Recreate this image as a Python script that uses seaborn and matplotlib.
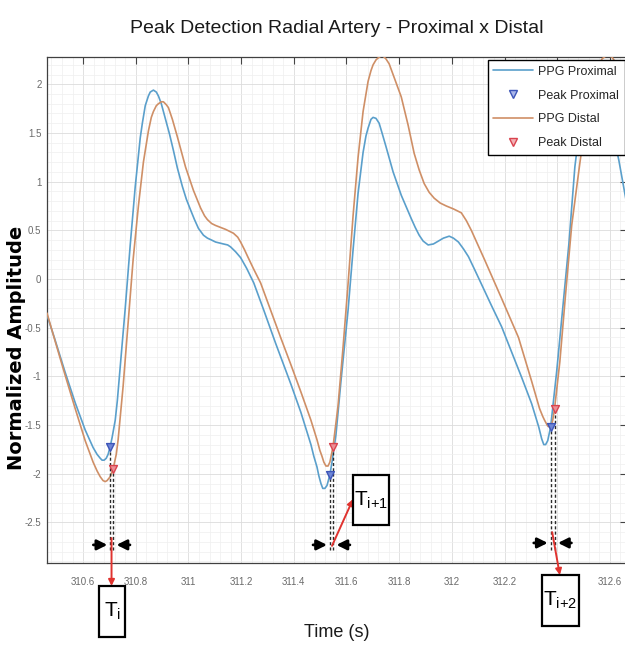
import matplotlib
matplotlib.use("Agg")
import matplotlib.pyplot as plt
import seaborn as sns
import pandas as pd
from matplotlib.patches import Rectangle
from matplotlib.lines import Line2D
from matplotlib.ticker import MultipleLocator, FixedLocator, FixedFormatter

# ---------------- data ----------------
prox_t = [310.463, 310.493, 310.531, 310.570, 310.608, 310.638, 310.653, 310.665, 310.672, 310.680,
          310.688, 310.695, 310.703, 310.710, 310.722, 310.730, 310.741, 310.760, 310.779, 310.798,
          310.817, 310.825, 310.836, 310.848, 310.855, 310.867, 310.878, 310.886, 310.897, 310.912,
          310.928, 310.943, 310.958, 310.977, 310.992, 311.008, 311.023, 311.038, 311.057, 311.072,
          311.088, 311.103, 311.133, 311.149, 311.160, 311.179, 311.198, 311.221, 311.248, 311.286,
          311.331, 311.389, 311.427, 311.465, 311.476, 311.488, 311.495, 311.503, 311.510, 311.518,
          311.526, 311.533, 311.537, 311.545, 311.560, 311.579, 311.606, 311.625, 311.644, 311.663,
          311.674, 311.682, 311.693, 311.701, 311.712, 311.724, 311.735, 311.750, 311.777, 311.808,
          311.846, 311.861, 311.876, 311.891, 311.910, 311.930, 311.949, 311.968, 311.990, 312.006,
          312.025, 312.044, 312.063, 312.086, 312.112, 312.150, 312.189, 312.227, 312.265, 312.303,
          312.330, 312.341, 312.349, 312.356, 312.364, 312.375, 312.398, 312.421, 312.444, 312.467,
          312.493, 312.512, 312.531, 312.550, 312.570, 312.585, 312.600, 312.634, 312.650, 312.672]
prox_v = [-0.37, -0.62, -0.95, -1.27, -1.55, -1.73, -1.80, -1.84, -1.86, -1.86,
          -1.84, -1.80, -1.72, -1.63, -1.45, -1.25, -0.90, -0.30, 0.35, 0.95,
          1.45, 1.60, 1.78, 1.88, 1.92, 1.94, 1.92, 1.88, 1.80, 1.65,
          1.49, 1.32, 1.14, 0.95, 0.82, 0.71, 0.61, 0.52, 0.45, 0.42,
          0.40, 0.38, 0.36, 0.35, 0.33, 0.28, 0.22, 0.11, -0.04, -0.32,
          -0.66, -1.08, -1.37, -1.70, -1.82, -1.93, -2.02, -2.10, -2.15, -2.15,
          -2.12, -2.05, -2.01, -1.88, -1.60, -1.05, -0.32, 0.30, 0.88, 1.30,
          1.47, 1.55, 1.64, 1.66, 1.65, 1.60, 1.50, 1.36, 1.10, 0.86,
          0.62, 0.53, 0.45, 0.39, 0.35, 0.36, 0.39, 0.42, 0.44, 0.42,
          0.38, 0.31, 0.23, 0.10, -0.05, -0.27, -0.49, -0.75, -1.01, -1.28,
          -1.52, -1.64, -1.70, -1.70, -1.66, -1.52, -0.95, -0.30, 0.35, 1.15,
          1.72, 1.92, 2.00, 1.98, 1.90, 1.80, 1.65, 1.22, 0.98, 0.65]

dist_t = [310.463, 310.493, 310.531, 310.570, 310.608, 310.638, 310.653, 310.665, 310.676, 310.684,
          310.691, 310.703, 310.714, 310.726, 310.733, 310.752, 310.771, 310.790, 310.810, 310.829,
          310.848, 310.859, 310.867, 310.878, 310.886, 310.897, 310.905, 310.916, 310.924, 310.939,
          310.958, 310.989, 311.019, 311.046, 311.061, 311.072, 311.088, 311.103, 311.122, 311.141,
          311.156, 311.171, 311.187, 311.198, 311.213, 311.225, 311.248, 311.274, 311.312, 311.350,
          311.389, 311.427, 311.465, 311.488, 311.499, 311.507, 311.514, 311.522, 311.530, 311.537,
          311.549, 311.568, 311.587, 311.606, 311.625, 311.644, 311.663, 311.682, 311.693, 311.701,
          311.712, 311.720, 311.731, 311.739, 311.750, 311.762, 311.785, 311.808, 311.834, 311.857,
          311.876, 311.895, 311.914, 311.933, 311.956, 311.979, 312.006, 312.036, 312.055, 312.074,
          312.124, 312.189, 312.253, 312.303, 312.333, 312.345, 312.352, 312.364, 312.371, 312.379,
          312.383, 312.390, 312.410, 312.432, 312.455, 312.486, 312.512, 312.550, 312.570, 312.589,
          312.608, 312.627, 312.646, 312.672]
dist_v = [-0.35, -0.63, -0.98, -1.33, -1.66, -1.88, -1.97, -2.03, -2.07, -2.08,
          -2.07, -2.03, -1.95, -1.80, -1.65, -1.10, -0.45, 0.20, 0.75, 1.20,
          1.52, 1.66, 1.72, 1.78, 1.80, 1.82, 1.82, 1.79, 1.76, 1.64,
          1.46, 1.15, 0.91, 0.73, 0.65, 0.61, 0.57, 0.55, 0.53, 0.51,
          0.49, 0.47, 0.43, 0.38, 0.30, 0.23, 0.10, -0.04, -0.32, -0.60,
          -0.88, -1.16, -1.45, -1.65, -1.76, -1.82, -1.88, -1.92, -1.92, -1.88,
          -1.72, -1.30, -0.70, -0.05, 0.65, 1.25, 1.72, 2.03, 2.14, 2.20,
          2.25, 2.27, 2.29, 2.29, 2.26, 2.21, 2.04, 1.87, 1.58, 1.29,
          1.12, 0.98, 0.89, 0.83, 0.78, 0.75, 0.72, 0.68, 0.60, 0.50,
          0.20, -0.20, -0.60, -1.05, -1.33, -1.41, -1.45, -1.51, -1.52, -1.49,
          -1.45, -1.33, -0.85, -0.15, 0.55, 1.19, 1.70, 2.15, 2.26, 2.30,
          2.28, 2.20, 2.06, 1.85]

prox_peak_t = [310.703, 311.537, 312.375]
prox_peak_v = [-1.72, -2.01, -1.52]
dist_peak_t = [310.714, 311.549, 312.390]
dist_peak_v = [-1.95, -1.72, -1.33]

x_ticks = [310.6, 310.8, 311.0, 311.2, 311.4, 311.6, 311.8, 312.0, 312.2, 312.4, 312.6]
x_tick_labels = ["310.6", "310.8", "311", "311.2", "311.4", "311.6", "311.8", "312", "312.2", "312.4", "312.6"]
y_ticks = [-2.5, -2, -1.5, -1, -0.5, 0, 0.5, 1, 1.5, 2]
y_tick_labels = ["-2.5", "-2", "-1.5", "-1", "-0.5", "0", "0.5", "1", "1.5", "2"]

series_labels = ["PPG Proximal", "Peak Proximal", "PPG Distal", "Peak Distal"]
interval_labels = [r"$\mathregular{T_{i}}$", r"$\mathregular{T_{i{+}1}}$", r"$\mathregular{T_{i{+}2}}$"]
title_text = "Peak Detection Radial Artery - Proximal x Distal"
x_label = "Time (s)"
y_label = "Normalized Amplitude"

# ---------------- layout / style ----------------
C_BLUE = "#5a9fcb"
C_ORANGE = "#cf8f66"
C_MK_BLUE = "#3d55b8"
C_MK_RED = "#d9434e"
C_RED = "#e0332f"
FONT = ["Liberation Sans Narrow", "Liberation Sans", "DejaVu Sans"]

# annotation geometry (data units)
dash_bottom = -2.78
arrow_y = [-2.73, -2.73, -2.71]
boxes = [(310.661, 310.760, -3.676, -3.152),
         (311.625, 311.762, -2.526, -2.012),
         (312.341, 312.482, -3.563, -3.039)]
red_arrows = [((310.708, -2.66), (310.708, -3.152)),
              ((311.545, -2.74), (311.625, -2.26)),
              ((312.381, -2.60), (312.41, -3.04))]

sns.set_style("white")
plt.rcParams["font.family"] = FONT
plt.rcParams["axes.unicode_minus"] = False

fig = plt.figure(figsize=(6.25, 6.49), dpi=100)
ax = fig.add_axes([47 / 625, 86 / 649, 580 / 625, 506 / 649])

df_p = pd.DataFrame({"t": prox_t, "v": prox_v})
df_d = pd.DataFrame({"t": dist_t, "v": dist_v})
sns.lineplot(data=df_p, x="t", y="v", ax=ax, color=C_BLUE, lw=1.2, sort=False, estimator=None, zorder=3)
sns.lineplot(data=df_d, x="t", y="v", ax=ax, color=C_ORANGE, lw=1.2, sort=False, estimator=None, zorder=3)

# dashed guide lines from peaks to the bottom
ax.vlines(prox_peak_t, dash_bottom, prox_peak_v, colors="#2a2a2a", linestyles=(0, (2.2, 1.6)), lw=1.0, zorder=4)
ax.vlines(dist_peak_t, dash_bottom, dist_peak_v, colors="#2a2a2a", linestyles=(0, (2.2, 1.6)), lw=1.0, zorder=4)

sns.scatterplot(x=prox_peak_t, y=prox_peak_v, ax=ax, marker="v", s=32, color="#6f86d6",
                edgecolor=C_MK_BLUE, linewidth=1.0, zorder=5)
sns.scatterplot(x=dist_peak_t, y=dist_peak_v, ax=ax, marker="v", s=32, color="#ec8f95",
                edgecolor=C_MK_RED, linewidth=1.0, zorder=5)

# black inward arrows
for pt, dt, ay in zip(prox_peak_t, dist_peak_t, arrow_y):
    ax.annotate("", xy=(pt - 0.011, ay), xytext=(pt - 0.064, ay),
                arrowprops=dict(arrowstyle="-|>", color="black", lw=2.0, mutation_scale=15,
                                shrinkA=0, shrinkB=0),
                zorder=6, annotation_clip=False)
    ax.annotate("", xy=(dt + 0.013, ay), xytext=(dt + 0.064, ay),
                arrowprops=dict(arrowstyle="-|>", color="black", lw=2.0, mutation_scale=15,
                                shrinkA=0, shrinkB=0),
                zorder=6, annotation_clip=False)

# red arrows to the interval boxes
for (st, en) in red_arrows:
    ax.annotate("", xy=en, xytext=st,
                arrowprops=dict(arrowstyle="-|>", color=C_RED, lw=1.4, mutation_scale=9,
                                shrinkA=0, shrinkB=0),
                zorder=7, annotation_clip=False)

# interval boxes
for (x0, x1, y0, y1), lab in zip(boxes, interval_labels):
    ax.add_patch(Rectangle((x0, y0), x1 - x0, y1 - y0, facecolor="white", edgecolor="black",
                           lw=1.6, clip_on=False, zorder=8))
    ax.text((x0 + x1) / 2, (y0 + y1) / 2, lab, ha="center", va="center", fontsize=15,
            color="black", zorder=9, clip_on=False)

# axes styling (MATLAB-like)
ax.set_xlim(310.463, 312.665)
ax.set_ylim(-2.916, 2.28)
ax.xaxis.set_major_locator(FixedLocator(x_ticks))
ax.xaxis.set_major_formatter(FixedFormatter(x_tick_labels))
ax.yaxis.set_major_locator(FixedLocator(y_ticks))
ax.yaxis.set_major_formatter(FixedFormatter(y_tick_labels))
ax.xaxis.set_minor_locator(MultipleLocator(0.04))
ax.yaxis.set_minor_locator(MultipleLocator(0.1))
ax.grid(which="major", color="#dcdcdc", lw=0.6)
ax.grid(which="minor", color="#efefef", lw=0.5)
ax.set_axisbelow(True)
ax.tick_params(which="major", direction="in", length=5, width=0.8, color="#444444",
               top=True, right=True, labelsize=7, labelcolor="#6a6a6a")
ax.tick_params(axis="x", pad=10)
ax.tick_params(axis="y", pad=4)
ax.tick_params(which="minor", length=0)
for s in ax.spines.values():
    s.set_color("#404040")
    s.set_linewidth(0.9)

ax.set_xlabel(x_label, fontsize=13, color="#1a1a1a")
ax.xaxis.set_label_coords(0.5, -0.12)
ax.set_ylabel(y_label, fontsize=14, fontweight="bold", family=["DejaVu Sans"], color="black")
ax.yaxis.set_label_coords(-0.036, 0.425)
ax.text(0.5, 1.057, title_text, transform=ax.transAxes, ha="center", va="center",
        fontsize=14, color="#1a1a1a")

handles = [Line2D([], [], color=C_BLUE, lw=1.2),
           Line2D([], [], ls="none", marker="v", markersize=6, markerfacecolor="#aab6ea",
                  markeredgecolor=C_MK_BLUE, markeredgewidth=1.0),
           Line2D([], [], color=C_ORANGE, lw=1.2),
           Line2D([], [], ls="none", marker="v", markersize=6, markerfacecolor="#f2b2b6",
                  markeredgecolor=C_MK_RED, markeredgewidth=1.0)]
leg = ax.legend(handles, series_labels, loc="upper right", bbox_to_anchor=(0.9965, 0.994),
                borderaxespad=0, fontsize=9, frameon=True, fancybox=False, framealpha=1,
                edgecolor="black", handlelength=3.2, labelspacing=0.95, borderpad=0.45,
                handletextpad=0.4)
leg.get_frame().set_linewidth(1.0)
leg.set_zorder(10)

fig.savefig("out.png", dpi=100, facecolor="white")
